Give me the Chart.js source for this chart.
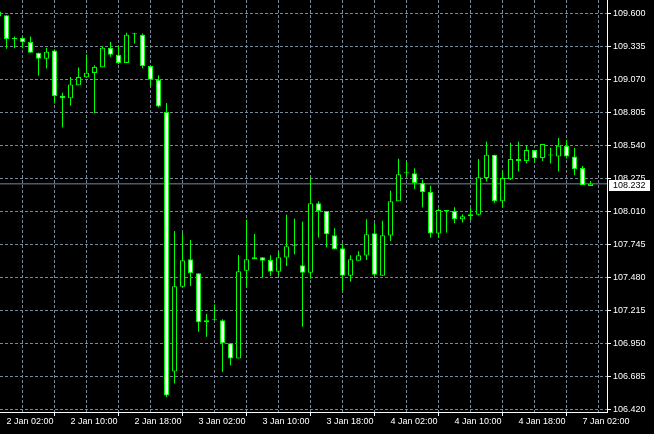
<!DOCTYPE html>
<html>
<head>
<meta charset="utf-8">
<script src="https://cdn.jsdelivr.net/npm/chart.js@4.4.1/dist/chart.umd.min.js"></script>
<style>
  html, body { margin: 0; padding: 0; background: #000; }
  canvas { display: block; background: #000; }
</style>
</head>
<body>
<canvas id="chart" width="654" height="434"></canvas>
<script>
// Hourly candles, 2 Jan 01:00 -> 7 Jan 03:00 (bar index = position on the x axis)
const openP = [
  109.616, 109.586, 109.399, 109.404, 109.372, 109.284, 109.236, 109.302, 108.940, 108.919,
  109.023, 109.088, 109.123, 109.168, 109.324, 109.268, 109.203, 109.433, 109.429, 109.179,
  109.067, 108.809, 106.725, 107.406, 107.627, 107.514, 107.136, 107.136, 107.136, 106.951,
  106.830, 107.535, 107.627, 107.643, 107.621, 107.527, 107.640, 107.731, 107.578, 107.519,
  108.077, 108.013, 107.820, 107.715, 107.495, 107.615, 107.656, 107.836, 107.495, 107.817,
  108.093, 108.318, 108.318, 108.238, 108.166, 107.833, 108.015, 108.013, 107.948, 107.972,
  107.983, 108.278, 108.466, 108.093, 108.270, 108.431, 108.415, 108.503, 108.439, 108.460,
  108.452, 108.538, 108.452, 108.359, 108.214
];
const highP = [
  109.620, 109.586, 109.415, 109.415, 109.415, 109.284, 109.324, 109.310, 108.964, 109.091,
  109.166, 109.270, 109.184, 109.337, 109.372, 109.340, 109.445, 109.445, 109.439, 109.187,
  109.104, 108.882, 107.854, 107.838, 107.782, 107.514, 107.187, 107.264, 107.144, 106.951,
  107.661, 107.943, 107.830, 107.643, 107.658, 107.693, 107.983, 107.951, 107.927, 108.286,
  108.093, 108.013, 107.876, 107.755, 107.659, 107.691, 107.948, 107.916, 107.935, 108.176,
  108.433, 108.415, 108.358, 108.265, 108.216, 108.034, 108.023, 108.045, 107.988, 108.037,
  108.431, 108.570, 108.466, 108.337, 108.562, 108.570, 108.544, 108.503, 108.552, 108.522,
  108.600, 108.584, 108.522, 108.375, 108.254
];
const lowP = [
  109.570, 109.316, 109.321, 109.321, 109.284, 109.101, 109.158, 108.878, 108.685, 108.860,
  109.023, 109.088, 108.798, 109.168, 109.252, 109.195, 109.203, 109.359, 109.160, 109.015,
  108.846, 106.521, 106.629, 107.406, 107.412, 107.044, 107.004, 107.136, 106.722, 106.776,
  106.830, 107.406, 107.627, 107.482, 107.492, 107.500, 107.573, 107.667, 107.084, 107.470,
  107.800, 107.723, 107.707, 107.374, 107.446, 107.615, 107.621, 107.495, 107.495, 107.771,
  108.093, 108.291, 108.190, 108.042, 107.800, 107.800, 107.841, 107.916, 107.921, 107.940,
  107.977, 108.251, 108.080, 108.042, 108.262, 108.331, 108.396, 108.404, 108.415, 108.396,
  108.331, 108.436, 108.302, 108.222, 108.214
];
const closeP = [
  109.576, 109.396, 109.396, 109.369, 109.284, 109.236, 109.292, 108.938, 108.919, 109.029,
  109.091, 109.125, 109.171, 109.324, 109.268, 109.203, 109.429, 109.433, 109.179, 109.067,
  108.854, 106.532, 107.409, 107.618, 107.514, 107.120, 107.120, 107.136, 106.951, 106.830,
  107.530, 107.627, 107.643, 107.615, 107.527, 107.643, 107.731, 107.731, 107.519, 108.077,
  108.013, 107.828, 107.707, 107.495, 107.627, 107.659, 107.828, 107.503, 107.820, 108.093,
  108.310, 108.318, 108.238, 108.166, 107.833, 108.023, 108.015, 107.948, 107.972, 107.988,
  108.286, 108.466, 108.093, 108.278, 108.431, 108.415, 108.503, 108.439, 108.552, 108.460,
  108.538, 108.452, 108.351, 108.222, 108.232
];

// Time labels, one every 8 bars starting at bar 1
const timeLabels = [
  '2 Jan 02:00', '2 Jan 10:00', '2 Jan 18:00', '3 Jan 02:00', '3 Jan 10:00',
  '3 Jan 18:00', '4 Jan 02:00', '4 Jan 10:00', '4 Jan 18:00', '7 Jan 02:00'
];
const firstLabelBar = 1;
const barsPerLabel = 8;

// Price grid levels
const priceTicks = [
  106.420, 106.685, 106.950, 107.215, 107.480, 107.745, 108.010,
  108.275, 108.540, 108.805, 109.070, 109.335, 109.600
];

const bidPrice = 108.232;

// visible window
const X_MIN = 0.1875;
const X_MAX = 76.0625;
const Y_MIN = 106.3999;
const Y_MAX = 109.7084;

const GREEN = '#00ff00';
const GRID = '#778899';

Chart.defaults.font.family = '"Liberation Sans", Arial, sans-serif';
Chart.defaults.font.size = 9;
Chart.defaults.color = '#ffffff';

const bodies = openP.map((o, i) => ({ x: i, y: [o, closeP[i]] }));
const wicks = lowP.map((l, i) => ({ x: i, y: [l, highP[i]] }));
const bodyFill = openP.map((o, i) => closeP[i] < o ? '#ffffff' : '#000000');

// white box with the current price on the price axis
const bidLabel = {
  id: 'bidLabel',
  afterDraw(chart) {
    const yScale = chart.scales.y;
    const py = Math.round(yScale.getPixelForValue(bidPrice));
    const ctx = chart.ctx;
    ctx.save();
    ctx.fillStyle = '#ffffff';
    ctx.fillRect(yScale.left + 2, py - 4, 41, 11);
    ctx.fillStyle = '#000000';
    ctx.font = '9px "Liberation Sans", Arial, sans-serif';
    ctx.textBaseline = 'middle';
    ctx.textAlign = 'left';
    ctx.fillText(bidPrice.toFixed(3), yScale.left + 6, py + 1.5);
    ctx.restore();
  }
};

new Chart(document.getElementById('chart'), {
  type: 'bar',
  data: {
    datasets: [
      {
        label: 'body',
        data: bodies,
        backgroundColor: bodyFill,
        borderColor: GREEN,
        borderWidth: 1,
        borderSkipped: false,
        barThickness: 5,
        minBarLength: 1,
        inflateAmount: 0,
        grouped: false,
        order: 0
      },
      {
        label: 'wick',
        data: wicks,
        backgroundColor: GREEN,
        borderWidth: 0,
        barThickness: 1,
        inflateAmount: 0,
        grouped: false,
        order: 1
      },
      {
        type: 'line',
        label: 'bid',
        data: [{ x: X_MIN, y: bidPrice }, { x: X_MAX, y: bidPrice }],
        borderColor: GRID,
        borderWidth: 1,
        pointRadius: 0,
        order: 2
      }
    ]
  },
  options: {
    responsive: false,
    animation: false,
    layout: { padding: 0 },
    plugins: {
      legend: { display: false },
      tooltip: { enabled: false }
    },
    scales: {
      x: {
        type: 'linear',
        min: X_MIN,
        max: X_MAX,
        offset: false,
        afterBuildTicks: (scale) => {
          const ticks = [];
          for (let b = firstLabelBar; b <= X_MAX; b += barsPerLabel / 2) {
            ticks.push({ value: b });
          }
          scale.ticks = ticks;
        },
        afterFit: (scale) => {
          scale.height = 22;
          scale.paddingLeft = 0;
          scale.paddingRight = 0;
        },
        grid: {
          color: GRID,
          lineWidth: 1,
          tickLength: 4,
          tickColor: (ctx) => ctx.index % 2 === 0 ? '#ffffff' : 'rgba(0,0,0,0)'
        },
        border: { color: '#ffffff', width: 1, dash: [3, 2] },
        ticks: {
          autoSkip: false,
          maxRotation: 0,
          minRotation: 0,
          align: 'start',
          padding: 0,
          color: '#ffffff',
          callback: (value, index) => index % 2 === 0 ? (timeLabels[index / 2] || '') : ''
        }
      },
      y: {
        type: 'linear',
        position: 'right',
        min: Y_MIN,
        max: Y_MAX,
        afterBuildTicks: (scale) => {
          scale.ticks = priceTicks.map(v => ({ value: v }));
        },
        afterFit: (scale) => {
          scale.width = 47;
          // chart area should reach the top of the canvas
          scale.paddingTop = 0;
          scale.paddingBottom = 0;
        },
        grid: {
          color: GRID,
          lineWidth: 1,
          tickLength: 4,
          tickColor: '#ffffff'
        },
        border: { color: '#ffffff', width: 1, dash: [3, 2] },
        ticks: {
          padding: 2,
          color: '#ffffff',
          callback: (value) => Number(value).toFixed(3)
        }
      }
    }
  },
  plugins: [bidLabel]
});
</script>
</body>
</html>
